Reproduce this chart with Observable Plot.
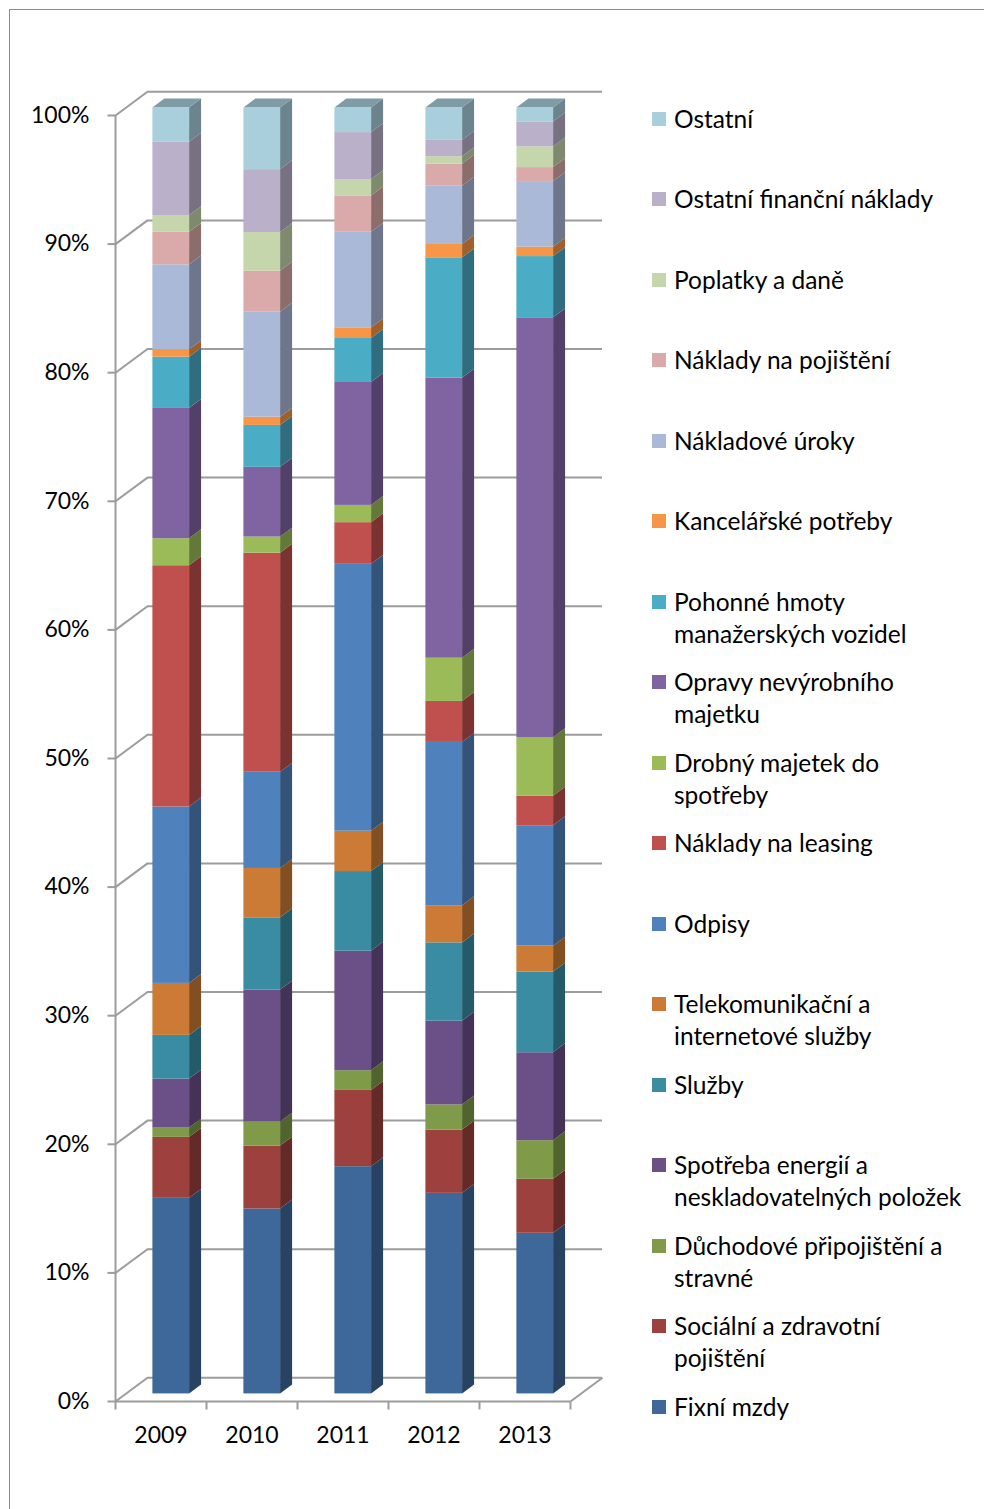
<!DOCTYPE html>
<html>
<head>
<meta charset="utf-8">
<script src="https://cdn.jsdelivr.net/npm/d3@7"></script>
<script src="https://cdn.jsdelivr.net/npm/@observablehq/plot@0.6"></script>
<style>
  html, body { margin: 0; padding: 0; background: #fff; width: 984px; height: 1509px; overflow: hidden; }
  #wrap { position: relative; width: 984px; height: 1509px; font-family: Lato, "Open Sans", sans-serif; }
  #frame { position: absolute; left: 9px; top: 9px; width: 1000px; height: 1520px;
           border-left: 1.5px solid #8c8c8c; border-top: 1.5px solid #8c8c8c; }
  #chart { position: absolute; left: 0; top: 0; }
  .lg-item { position: absolute; left: 652px; }
  .lg-sw { position: absolute; left: 0; width: 14px; height: 14px; }
  .lg-tx { position: absolute; left: 22px; white-space: pre; font-size: 24.5px; line-height: 32px; color: #000; }
</style>
</head>
<body>
<div id="wrap"><div id="frame"></div><div id="chart"></div><div id="legend"></div></div>
<script>
// ---------------- data ----------------
const years = ["2009", "2010", "2011", "2012", "2013"];

// series from bottom of the stack to the top ("\n" = legend line break)
const series = [
  "Fixní mzdy",
  "Sociální a zdravotní\npojištění",
  "Důchodové připojištění a\nstravné",
  "Spotřeba energií a\nneskladovatelných položek",
  "Služby",
  "Telekomunikační a\ninternetové služby",
  "Odpisy",
  "Náklady na leasing",
  "Drobný majetek do\nspotřeby",
  "Opravy nevýrobního\nmajetku",
  "Pohonné hmoty\nmanažerských vozidel",
  "Kancelářské potřeby",
  "Nákladové úroky",
  "Náklady na pojištění",
  "Poplatky a daně",
  "Ostatní finanční náklady",
  "Ostatní"
];

const colors = [
  "#3E6899", "#9C413E", "#7F9A48", "#6A5086", "#3A8CA3", "#CB7B36",
  "#4F81BD", "#C0504D", "#9BBB59", "#8064A2", "#4BACC6", "#F79646",
  "#AAB9D7", "#D9AAA9", "#C6D6AC", "#BAB0C9", "#A9CEDC"
];

// shares in %, same order as series
const v2009 = [15.21, 4.74, 0.72, 3.81, 3.40, 4.04, 13.72, 18.76, 2.10, 10.13, 3.99, 0.57, 6.61, 2.53, 1.30, 5.70, 2.67];
const v2010 = [14.38, 4.89, 1.87, 10.26, 5.62, 3.84, 7.48, 17.04, 1.25, 5.42, 3.26, 0.64, 8.16, 3.19, 3.01, 4.89, 4.80];
const v2011 = [17.67, 5.93, 1.53, 9.30, 6.19, 3.14, 20.75, 3.24, 1.34, 9.56, 3.42, 0.83, 7.43, 2.83, 1.27, 3.65, 1.92];
const v2012 = [15.60, 4.92, 1.96, 6.51, 6.09, 2.89, 12.70, 3.19, 3.36, 21.78, 9.36, 1.04, 4.53, 1.71, 0.59, 1.27, 2.52];
const v2013 = [12.49, 4.20, 3.00, 6.84, 6.27, 2.02, 9.36, 2.30, 4.56, 32.64, 4.76, 0.73, 5.10, 1.09, 1.61, 1.94, 1.09];

const yTicks = [0, 10, 20, 30, 40, 50, 60, 70, 80, 90, 100];

// ---------------- layout ----------------
const W = 984, H = 1509;
const mL = 115, mR = 414, mT = 115, mB = 108;
const PX = (W - mL - mR) / years.length;   // px per category
const PY = (H - mT - mB) / 100;            // px per percent
const DX = 32 / PX, DY = 23.7 / PY;        // depth of the 3-D box in data units
const d0 = 0.32, d1 = 0.695;               // front / back depth of the columns
const BW = 36.7 / PX;                      // column width
const FS = 23;

const yearValues = [v2009, v2010, v2011, v2012, v2013];
const fronts = [], sides = [], tops = [];
yearValues.forEach((vals, i) => {
  const tot = d3.sum(vals);
  let acc = 0;
  vals.forEach((v, s) => {
    const lo = acc / tot * 100; acc += v; const hi = acc / tot * 100;
    fronts.push({
      x1: i - BW / 2 + d0 * DX, x2: i + BW / 2 + d0 * DX,
      y1: lo + d0 * DY, y2: hi + d0 * DY, fill: colors[s]
    });
    const side = d3.color(colors[s]).darker(1.25).formatHex();
    for (const d of [d0, d1]) {
      sides.push({id: i + "-" + s, x: i + BW / 2 + d * DX, y1: lo + d * DY, y2: hi + d * DY, fill: side});
    }
  });
  const topFill = d3.color(colors[colors.length - 1]).darker(0.8).formatHex();
  const T0 = 100 + d0 * DY, T1 = 100 + d1 * DY;
  const xl0 = i - BW / 2 + d0 * DX, xl1 = i - BW / 2 + d1 * DX;
  const xr0 = i + BW / 2 + d0 * DX, xr1 = i + BW / 2 + d1 * DX;
  tops.push(
    {id: "t" + i, x: xl0, y1: T0, y2: T0, fill: topFill},
    {id: "t" + i, x: xl1, y1: T0, y2: T1, fill: topFill},
    {id: "t" + i, x: xr0, y1: T0, y2: T1, fill: topFill},
    {id: "t" + i, x: xr1, y1: T1, y2: T1, fill: topFill}
  );
});

const grid = "#9c9c9c";
const xLo = -0.5, xHi = years.length - 0.5;
const xTicks = d3.range(xLo, xHi + 0.01, 1);

const chart = Plot.plot({
  width: W, height: H,
  marginLeft: mL, marginRight: mR, marginTop: mT, marginBottom: mB,
  x: {domain: [xLo, xHi], axis: null},
  y: {domain: [0, 100], axis: null},
  color: {type: "identity"},
  style: {fontFamily: "Lato, 'Open Sans', sans-serif", fontSize: FS + "px", color: "#000", background: "transparent", overflow: "visible"},
  marks: [
    // back wall gridlines
    Plot.ruleY(yTicks, {y: d => d + DY, x1: xLo + DX, x2: xHi + DX, stroke: grid, strokeWidth: 2}),
    // side-wall diagonals
    Plot.link(yTicks, {x1: xLo, y1: d => d, x2: xLo + DX, y2: d => d + DY, stroke: grid, strokeWidth: 2}),
    Plot.link([0], {x1: xHi, y1: 0, x2: xHi + DX, y2: DY, stroke: grid, strokeWidth: 2}),
    // axes
    Plot.ruleX([xLo], {y1: 0, y2: 100, stroke: grid, strokeWidth: 2}),
    Plot.ruleY([0], {x1: xLo, x2: xHi, stroke: grid, strokeWidth: 2}),
    Plot.link(yTicks, {x1: xLo - 8 / PX, x2: xLo, y1: d => d, y2: d => d, stroke: grid, strokeWidth: 2}),
    Plot.link(xTicks, {x1: d => d, x2: d => d, y1: 0, y2: -8 / PY, stroke: grid, strokeWidth: 2}),
    // columns
    Plot.area(sides, {x1: "x", y1: "y1", y2: "y2", z: "id", fill: "fill"}),
    Plot.area(tops, {x1: "x", y1: "y1", y2: "y2", z: "id", fill: "fill"}),
    Plot.rect(fronts, {x1: "x1", x2: "x2", y1: "y1", y2: "y2", fill: "fill"}),
    // labels
    Plot.text(yTicks, {x: xLo, y: d => d, text: d => d + "%", textAnchor: "end", dx: -26, fontSize: FS, fill: "#000"}),
    Plot.text(years, {x: (d, i) => i, y: 0, text: d => d, dy: 34, fontSize: FS, fill: "#000"})
  ]
});
document.getElementById("chart").appendChild(chart);

// ---------------- legend ----------------
const legend = d3.select("#legend");
const order = d3.range(series.length).reverse();
const step = 80.5, firstCenter = 119.2;
order.forEach((s, k) => {
  const cy = firstCenter + k * step;
  const item = legend.append("div").attr("class", "lg-item").style("top", (cy - 16.6) + "px");
  item.append("div").attr("class", "lg-sw").style("top", (16.6 - 7.3) + "px").style("background", colors[s]);
  item.append("div").attr("class", "lg-tx").text(series[s]);
});
</script>
</body>
</html>
